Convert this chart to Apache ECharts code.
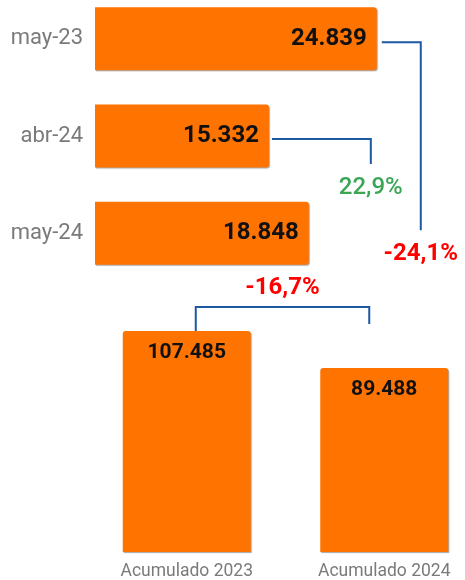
<!DOCTYPE html>
<html>
<head>
<meta charset="utf-8">
<script src="https://cdn.jsdelivr.net/npm/echarts@6/dist/echarts.min.js"></script>
<style>
html,body{margin:0;padding:0;background:#fff;}
#chart{width:465px;height:580px;}
</style>
</head>
<body>
<div id="chart"></div>
<script>
const monthCategories = ['may-23', 'abr-24', 'may-24'];
const monthValues = [24839, 15332, 18848];
const accumCategories = ['Acumulado 2023', 'Acumulado 2024'];
const accumValues = [107485, 89488];
const changeMonthOnMonth = '22,9%';
const changeYearOnYear = '-24,1%';
const changeAccum = '-16,7%';

const FONT = 'Roboto';
const ORANGE = '#ff7300';
const BLUE = '#1d58a3';

function fmt(v) {
  return String(v).replace(/\B(?=(\d{3})+(?!\d))/g, '.');
}

const chart = echarts.init(document.getElementById('chart'), null, {renderer: 'canvas'});

const barStyleH = {
  color: ORANGE,
  borderRadius: [0, 3, 3, 0],
  shadowColor: 'rgba(0,0,0,0.35)',
  shadowBlur: 1,
  shadowOffsetX: 1,
  shadowOffsetY: 1
};
const barStyleV = {
  color: ORANGE,
  borderRadius: [3, 3, 0, 0],
  shadowColor: 'rgba(0,0,0,0.35)',
  shadowBlur: 1,
  shadowOffsetX: 1,
  shadowOffsetY: 1
};

chart.setOption({
  animation: false,
  backgroundColor: '#fff',
  textStyle: {fontFamily: FONT},
  grid: [
    {left: 95, top: -10, width: 370, height: 292, outerBoundsMode: 'none', containLabel: false},
    {left: 88, top: 300, width: 395, height: 252, outerBoundsMode: 'none', containLabel: false}
  ],
  xAxis: [
    {gridIndex: 0, type: 'value', min: 0, max: 32616, show: false},
    {gridIndex: 1, type: 'category', data: accumCategories,
     axisLine: {show: false}, axisTick: {show: false},
     axisLabel: {color: '#7a7a7a', fontSize: 17.5, fontFamily: FONT, margin: 11}}
  ],
  yAxis: [
    {gridIndex: 0, type: 'category', data: monthCategories, inverse: true,
     axisLine: {show: false}, axisTick: {show: false},
     axisLabel: {color: '#7a7a7a', fontSize: 22, fontFamily: FONT, margin: 12}},
    {gridIndex: 1, type: 'value', min: 0, max: 122560, show: false}
  ],
  series: [
    {
      type: 'bar', xAxisIndex: 0, yAxisIndex: 0,
      data: monthValues, barWidth: 63,
      itemStyle: barStyleH,
      label: {show: true, position: 'insideRight', distance: 10,
        formatter: p => fmt(p.value),
        color: '#111', fontSize: 24, fontWeight: 'bold', fontFamily: FONT}
    },
    {
      type: 'bar', xAxisIndex: 1, yAxisIndex: 1,
      data: accumValues, barWidth: 128,
      itemStyle: barStyleV,
      label: {show: true, position: 'insideTop', distance: 11,
        formatter: p => fmt(p.value),
        color: '#111', fontSize: 21, fontWeight: 'bold', fontFamily: FONT}
    }
  ]
});

// connectors derived from data positions
const p = monthValues.map((v, i) => chart.convertToPixel({xAxisIndex: 0, yAxisIndex: 0}, [v, i]));
const q = accumValues.map((v, i) => chart.convertToPixel({xAxisIndex: 1, yAxisIndex: 1}, [i, v]));

const lineStyle = {stroke: BLUE, lineWidth: 2, fill: null};
const graphics = [];

// abr-24 -> may-24
const ax = p[2][0] + 62;
graphics.push({type: 'polyline', shape: {points: [[p[1][0] + 3, p[1][1] + 3], [ax, p[1][1] + 3], [ax, p[1][1] + 28]]}, style: lineStyle});
graphics.push({type: 'text', x: ax, y: p[1][1] + 52, style: {text: changeMonthOnMonth, fill: '#3aa655', font: '500 24px ' + FONT, align: 'center', verticalAlign: 'middle'}});

// may-23 -> may-24
const bx = p[0][0] + 44;
graphics.push({type: 'polyline', shape: {points: [[p[0][0] + 5, p[0][1] + 3.5], [bx, p[0][1] + 3.5], [bx, p[2][1] - 3]]}, style: lineStyle});
graphics.push({type: 'text', x: bx, y: p[2][1] + 21, style: {text: changeYearOnYear, fill: '#ff0000', font: 'bold 24px ' + FONT, align: 'center', verticalAlign: 'middle'}});

// accumulated
const cy = q[0][1] - 24;
const c1 = q[0][0] + 9, c2 = q[1][0] - 15;
graphics.push({type: 'polyline', shape: {points: [[c1, q[0][1]], [c1, cy], [c2, cy], [c2, q[0][1] - 7]]}, style: lineStyle});
graphics.push({type: 'text', x: (c1 + c2) / 2, y: q[0][1] - 43, style: {text: changeAccum, fill: '#ff0000', font: 'bold 24px ' + FONT, align: 'center', verticalAlign: 'middle'}});

chart.setOption({graphic: graphics});
</script>
</body>
</html>
